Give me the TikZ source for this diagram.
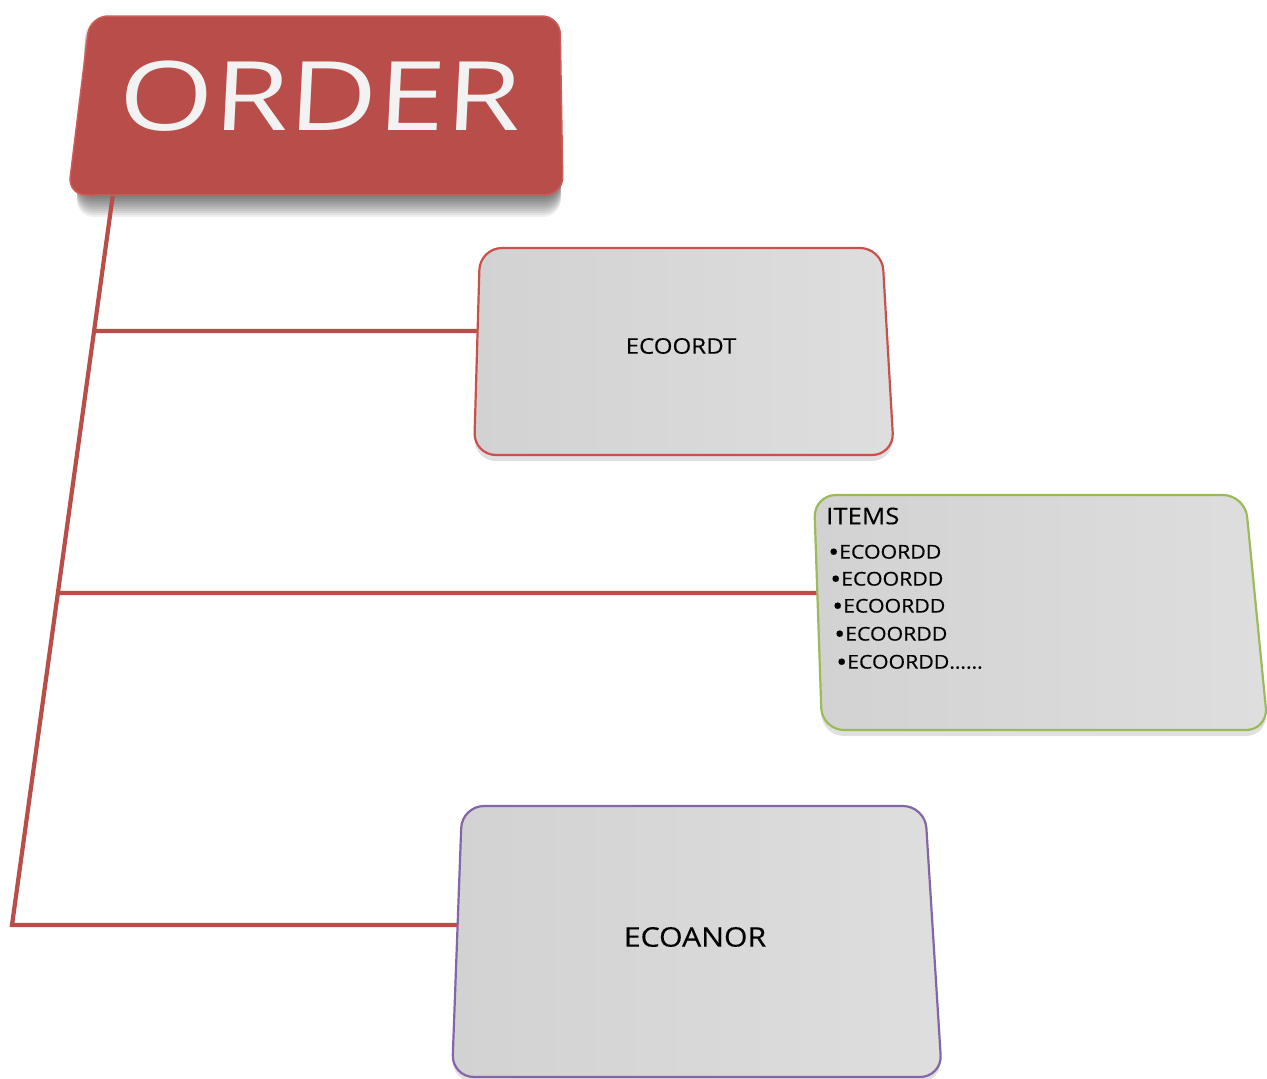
\documentclass[tikz,border=0pt]{standalone}
\usepackage{fontspec}
\setmainfont{Open Sans}
\newfontfamily\cardfont[FakeBold=0.35]{Open Sans}
\usetikzlibrary{calc}
\definecolor{ordred}{HTML}{B94D4A}
\definecolor{ordedge}{HTML}{CC5E59}
\definecolor{linered}{HTML}{B94D48}
\definecolor{cardfillA}{HTML}{D2D2D2}
\definecolor{cardfillB}{HTML}{DEDEDE}
\definecolor{edgered}{HTML}{C9514C}
\definecolor{edgegreen}{HTML}{9BBB59}
\definecolor{edgepurple}{HTML}{8466A8}
\definecolor{ordtext}{HTML}{F2F2F2}
\tikzset{
  card/.style={rounded corners=22pt, line width=2.2pt, left color=cardfillA, right color=cardfillB},
  cardshadow/.style={rounded corners=22pt, fill=black, opacity=0.12},
  connector/.style={draw=linered, line width=4.2pt},
  boxlabel/.style={text=black, xscale=1.12, inner sep=0pt},
}
\newcommand{\bigbul}{{\fontsize{26}{18}\selectfont\raisebox{-2.6pt}{•}}}
\begin{document}
\begin{tikzpicture}[x=1pt,y=-1pt]
\useasboundingbox[fill=white] (0,0) rectangle (1267,1079);

% ---------- corner coordinates ----------
\coordinate (o-tl) at (90,16);   \coordinate (o-tr) at (560,16);
\coordinate (o-br) at (563,195); \coordinate (o-bl) at (68,195);
\coordinate (t-tl) at (480,248); \coordinate (t-tr) at (882,248);
\coordinate (t-br) at (894,455); \coordinate (t-bl) at (474,455);
\coordinate (i-tl) at (814,495); \coordinate (i-tr) at (1245,495);
\coordinate (i-br) at (1268,730);\coordinate (i-bl) at (822,730);
\coordinate (a-tl) at (462,806); \coordinate (a-tr) at (925,806);
\coordinate (a-br) at (942,1077);\coordinate (a-bl) at (452,1077);

% ---------- connector end points ----------
\coordinate (sp-top) at (113,194);
\coordinate (sp-bot) at (12,925);
\coordinate (j1) at ($(sp-top)!0.1874!(sp-bot)$);
\coordinate (j2) at ($(sp-top)!0.5458!(sp-bot)$);
\coordinate (t-w) at (478,331);
\coordinate (i-w) at (818,593);
\coordinate (a-w) at (458,925);

% ---------- ORDER shadow ----------
\foreach \d in {2,4,...,22}{
  \fill[rounded corners=18pt, black, opacity=0.06]
    ($(o-tl)+(-4,\d)$) -- ($(o-tr)+(0,\d)$) -- ($(o-br)+(-2,\d)$) -- ($(o-bl)+(8,\d)$) -- cycle;
}

% ---------- connectors ----------
\draw[connector, line join=miter] (sp-top) -- (sp-bot) -- (a-w);
\draw[connector] (j1) -- (t-w);
\draw[connector] (j2) -- (i-w);

% ---------- ORDER box ----------
\fill[ordred, rounded corners=18pt] (o-tl) -- (o-tr) -- (o-br) -- (o-bl) -- cycle;
\draw[ordedge, line width=1.5pt, rounded corners=18pt] (o-tl) -- (o-tr) -- (o-br) -- (o-bl) -- cycle;
\node[text=ordtext, font=\fontsize{96}{96}\selectfont, xscale=1.27, xslant=0.04, inner sep=0pt] (order) at (320,96) {ORDER};

% ---------- ECOORDT ----------
\fill[cardshadow] ($(t-tl)+(0,6)$) -- ($(t-tr)+(0,6)$) -- ($(t-br)+(0,6)$) -- ($(t-bl)+(0,6)$) -- cycle;
\draw[card, draw=edgered] (t-tl) -- (t-tr) -- (t-br) -- (t-bl) -- cycle;
\node[boxlabel, font=\cardfont\fontsize{21.5}{21.5}\selectfont] (ecoordt) at (681,346) {ECOORDT};

% ---------- ITEMS ----------
\fill[cardshadow] ($(i-tl)+(0,6)$) -- ($(i-tr)+(0,6)$) -- ($(i-br)+(0,6)$) -- ($(i-bl)+(0,6)$) -- cycle;
\draw[card, draw=edgegreen] (i-tl) -- (i-tr) -- (i-br) -- (i-bl) -- cycle;
\node[boxlabel, anchor=west, font=\cardfont\fontsize{23}{23}\selectfont] (items) at (826,516) {ITEMS};
\node[boxlabel, anchor=west, font=\cardfont\fontsize{19}{19}\selectfont] (it1) at (828,553) {\bigbul ECOORDD};
\node[boxlabel, anchor=west, font=\cardfont\fontsize{19}{19}\selectfont] (it2) at (830,580) {\bigbul ECOORDD};
\node[boxlabel, anchor=west, font=\cardfont\fontsize{19}{19}\selectfont] (it3) at (832,607) {\bigbul ECOORDD};
\node[boxlabel, anchor=west, font=\cardfont\fontsize{19}{19}\selectfont] (it4) at (834,635) {\bigbul ECOORDD};
\node[boxlabel, anchor=west, font=\cardfont\fontsize{19}{19}\selectfont] (it5) at (836,663) {\bigbul ECOORDD……};

% ---------- ECOANOR ----------
\fill[cardshadow] ($(a-tl)+(0,5)$) -- ($(a-tr)+(0,5)$) -- ($(a-br)+(0,5)$) -- ($(a-bl)+(0,5)$) -- cycle;
\draw[card, draw=edgepurple] (a-tl) -- (a-tr) -- (a-br) -- (a-bl) -- cycle;
\node[boxlabel, font=\cardfont\fontsize{27}{27}\selectfont] (ecoanor) at (695,937) {ECOANOR};
\end{tikzpicture}
\end{document}
